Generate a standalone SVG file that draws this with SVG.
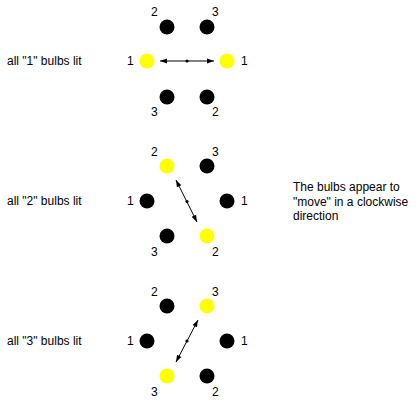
<svg xmlns="http://www.w3.org/2000/svg" width="420" height="403" viewBox="0 0 420 403">
<style>
text{font-family:"Liberation Sans",Arial,sans-serif;font-size:12px;fill:#000}
.on{fill:#ffff00}
.off{fill:#000}
.ln{stroke:#000;stroke-width:1;fill:none;marker-start:url(#ah);marker-end:url(#ah)}
</style>
<defs>
<marker id="ah" viewBox="0 0 10 10" refX="10" refY="5" markerWidth="7" markerHeight="7" markerUnits="userSpaceOnUse" orient="auto-start-reverse">
<path d="M0,1.5 L10,5 L0,8.5 Z" fill="#000"/>
</marker>
</defs>
<rect width="420" height="403" fill="#fff"/>
<g id="labels">
<text x="7" y="65">all "1" bulbs lit</text>
<text x="7" y="205">all "2" bulbs lit</text>
<text x="7" y="345">all "3" bulbs lit</text>
<text x="293" y="191">The bulbs appear to</text>
<text x="293" y="206">"move" in a clockwise</text>
<text x="293" y="220">direction</text>
</g>
<g id="set1">
<circle cx="167" cy="27" r="7.5" class="off"/><text x="151" y="16">2</text>
<circle cx="207" cy="27" r="7.5" class="off"/><text x="212" y="16">3</text>
<circle cx="147" cy="61" r="7.5" class="on"/><text x="127" y="65">1</text>
<circle cx="227" cy="61" r="7.5" class="on"/><text x="241" y="65">1</text>
<circle cx="167" cy="97" r="7.5" class="off"/><text x="151" y="116">3</text>
<circle cx="207" cy="97" r="7.5" class="off"/><text x="212" y="116">2</text>
</g>
<g id="set2">
<circle cx="167" cy="166" r="7.5" class="on"/><text x="151" y="156">2</text>
<circle cx="207" cy="166" r="7.5" class="off"/><text x="212" y="156">3</text>
<circle cx="147" cy="201" r="7.5" class="off"/><text x="127" y="205">1</text>
<circle cx="227" cy="201" r="7.5" class="off"/><text x="241" y="205">1</text>
<circle cx="167" cy="236" r="7.5" class="off"/><text x="151" y="256">3</text>
<circle cx="207" cy="236" r="7.5" class="on"/><text x="212" y="256">2</text>
</g>
<g id="set3">
<circle cx="167" cy="306" r="7.5" class="off"/><text x="151" y="296">2</text>
<circle cx="207" cy="306" r="7.5" class="on"/><text x="212" y="296">3</text>
<circle cx="147" cy="341" r="7.5" class="off"/><text x="127" y="345">1</text>
<circle cx="227" cy="341" r="7.5" class="off"/><text x="241" y="345">1</text>
<circle cx="167" cy="376" r="7.5" class="on"/><text x="151" y="396">3</text>
<circle cx="207" cy="376" r="7.5" class="off"/><text x="212" y="396">2</text>
</g>
<g id="connectors">
<line x1="160" y1="61" x2="214" y2="61" class="ln"/>
<circle cx="187" cy="61" r="1.6" fill="#000"/>
<line x1="176" y1="180" x2="197" y2="222" class="ln"/>
<circle cx="187" cy="201.5" r="1.6" fill="#000"/>
<line x1="198" y1="320" x2="176" y2="362" class="ln"/>
<circle cx="187" cy="341" r="1.6" fill="#000"/>
</g>
</svg>
